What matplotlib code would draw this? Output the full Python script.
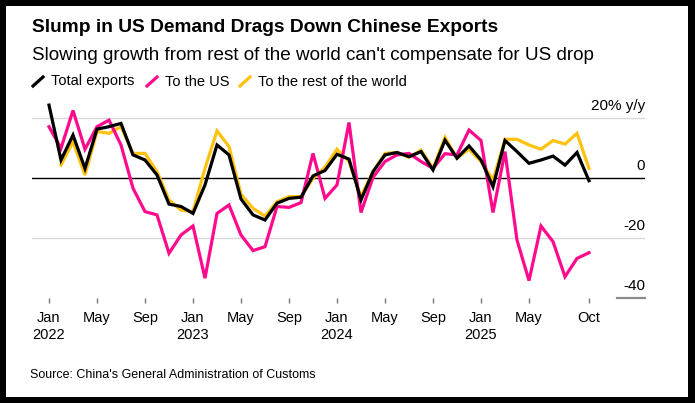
import numpy as np
import matplotlib
matplotlib.use("Agg")
import matplotlib.pyplot as plt
from matplotlib.lines import Line2D
from matplotlib.patches import Rectangle

plt.rcParams['font.family'] = ['Liberation Sans', 'DejaVu Sans']

# monthly y/y % change, Jan 2022 .. Oct 2025
months = np.arange(46)
total_exports = [24.4, 6.1, 14.4, 3.3, 16.4, 17.2, 18.3, 7.8, 6.1, 1.1,
                 -8.6, -9.4, -11.7, -2.2, 11.1, 7.8, -6.9, -12.2, -13.9, -8.3,
                 -6.7, -6.3, 0.8, 2.6, 8.0, 6.4, -7.2, 2.2, 7.8, 8.6,
                 7.2, 8.9, 2.8, 12.7, 6.7, 10.8, 6.1, -2.8, 12.6, 8.9,
                 5.0, 6.1, 7.4, 4.4, 8.6, -0.8]
to_us = [17.2, 10.0, 22.6, 9.7, 17.2, 19.4, 11.1, -3.3, -11.1, -12.2,
         -25.0, -18.9, -15.9, -33.3, -11.7, -8.9, -18.9, -24.1, -22.8, -9.4,
         -9.7, -8.1, 8.3, -6.7, -2.2, 18.6, -11.4, 0.3, 5.6, 7.8,
         8.3, 5.6, 3.3, 8.2, 7.8, 16.1, 12.6, -11.4, 8.9, -20.6,
         -34.1, -15.9, -21.1, -32.8, -26.7, -24.8]
to_rest = [np.nan, 4.4, 12.2, 1.1, 15.6, 15.0, 17.2, 8.3, 8.3, 2.2,
           -7.2, -10.6, -11.1, 3.3, 15.8, 10.6, -5.3, -10.0, -12.6, -7.8,
           -6.1, -6.1, 0.0, 3.7, 9.7, 5.6, -6.1, 2.2, 8.3, 8.6,
           7.0, 9.4, 3.3, 13.6, 6.7, 9.7, 5.6, -0.6, 13.0, 13.0,
           11.1, 9.7, 12.6, 11.4, 15.0, 3.3]

tick_pos = [0, 4, 8, 12, 16, 20, 24, 28, 32, 36, 40, 45]
tick_labels = ["Jan\n2022", "May", "Sep", "Jan\n2023", "May", "Sep",
               "Jan\n2024", "May", "Sep", "Jan\n2025", "May", "Oct"]
y_levels = [20, 0, -20, -40]
y_labels = ["20% y/y", "0", "-20", "-40"]

BLACK = "#000000"
PINK = "#ff0a8c"
YELLOW = "#ffc20e"

W, H = 695, 403
fig = plt.figure(figsize=(W / 100, H / 100), dpi=100)
fig.patch.set_facecolor("black")
fig.patches.append(Rectangle((6 / W, 6 / H), (688 - 6) / W, (397 - 6) / H,
                             transform=fig.transFigure, facecolor="white",
                             edgecolor="none", zorder=-5))

ax = fig.add_axes([32 / W, (H - 298.3) / H, (645 - 32) / W, (298.3 - 97.3) / H])
ax.set_facecolor("none")
ax.set_zorder(2)

ax.set_xlim(-17 / 12, (645 - 49) / 12)
ax.set_ylim(-40, 27)

for lvl in (20, -20):
    ax.axhline(lvl, color="#d9d9d9", lw=1.0, zorder=1)
ax.axhline(0, color="black", lw=1.0, zorder=2)
ax.plot([0.954, 1.0], [-40, -40], transform=ax.get_yaxis_transform(),
        color="#8c8c8c", lw=1.6, clip_on=False, zorder=2)

ax.plot(months, to_rest, color=YELLOW, lw=2.3, zorder=3, solid_joinstyle="miter")
ax.plot(months, to_us, color=PINK, lw=2.3, zorder=4, solid_joinstyle="miter")
ax.plot(months, total_exports, color=BLACK, lw=2.3, zorder=5, solid_joinstyle="miter")

for lvl, lab in zip(y_levels, y_labels):
    ax.annotate(lab, xy=(1.0, lvl), xycoords=ax.get_yaxis_transform(),
                xytext=(0, 6), textcoords="offset points",
                ha="right", va="baseline", fontsize=11, color="black")

ax.set_xticks(tick_pos)
ax.set_xticklabels(tick_labels, fontsize=10.5, linespacing=1.25)
ax.tick_params(axis="x", length=3.5, width=1, color="#777777", pad=6)
ax.set_yticks([])
for s in ax.spines.values():
    s.set_visible(False)

# titles
fig.text(32 / W, 1 - 28 / H, "Slump in US Demand Drags Down Chinese Exports",
         fontsize=13.75, fontweight="bold", va="center", ha="left")
fig.text(32 / W, 1 - 56 / H,
         "Slowing growth from rest of the world can't compensate for US drop",
         fontsize=13.6, va="center", ha="left")

# legend
legend_items = [("Total exports", BLACK, 33, 51),
                ("To the US", PINK, 147, 165),
                ("To the rest of the world", YELLOW, 240, 258)]
for name, col, ix, tx in legend_items:
    fig.add_artist(Line2D([ix / W, (ix + 10) / W], [1 - 86 / H, 1 - 77 / H],
                          color=col, lw=2.3, transform=fig.transFigure))
    fig.text(tx / W, 1 - 81.5 / H, name, fontsize=10.5, va="center", ha="left")

fig.text(30 / W, 1 - 375 / H, "Source: China's General Administration of Customs",
         fontsize=9.0, va="center", ha="left")

fig.savefig("out.png", dpi=100, facecolor=fig.get_facecolor())
